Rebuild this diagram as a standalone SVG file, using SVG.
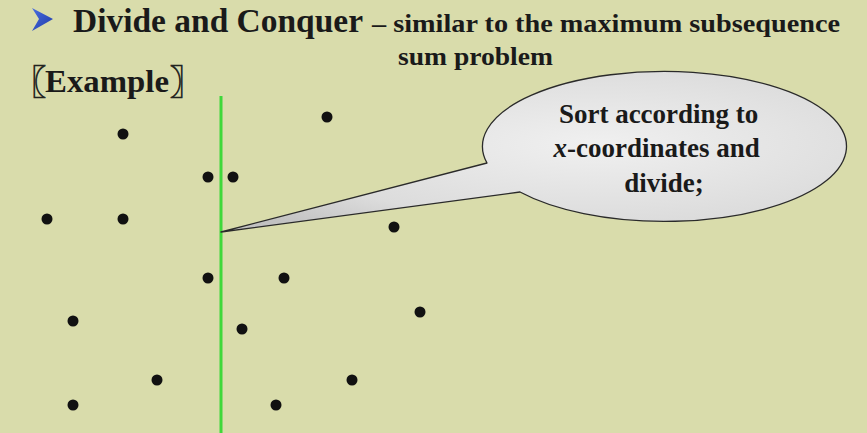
<svg xmlns="http://www.w3.org/2000/svg" width="867" height="433" viewBox="0 0 867 433">
  <style>
    .hd { font-family: "Liberation Serif", "DejaVu Serif", "Times New Roman", serif; font-weight: bold; fill: #1a1a1a; }
    .br { font-family: "Noto Sans CJK SC", "Noto Sans CJK JP", sans-serif; font-weight: 900; fill: #1a1a1a; stroke: #1a1a1a; stroke-width: 0.6; }
    .pt { fill: #111; }
  </style>
  <defs>
    <radialGradient id="bubbleFill" cx="0.6" cy="0.45" r="0.7">
      <stop offset="0" stop-color="#f0f0f0"/>
      <stop offset="0.7" stop-color="#dcdcdc"/>
      <stop offset="1" stop-color="#c2c2c2"/>
    </radialGradient>
    <linearGradient id="bulletFill" x1="0" y1="0" x2="1" y2="1">
      <stop offset="0" stop-color="#4a6ee0"/>
      <stop offset="1" stop-color="#1f3aa8"/>
    </linearGradient>
  </defs>

  <!-- slide background -->
  <rect x="0" y="0" width="867" height="433" fill="#d9dcab"/>

  <!-- heading -->
  <g id="title">
    <polygon points="32,8 53,19 32,31 39,19" fill="url(#bulletFill)"/>
    <text class="hd" x="73" y="32" font-size="33" textLength="290" lengthAdjust="spacingAndGlyphs">Divide and Conquer</text>
    <text class="hd" x="372" y="32" font-size="26" textLength="468" lengthAdjust="spacingAndGlyphs">– similar to the maximum subsequence</text>
    <text class="hd" x="398" y="65" font-size="26" textLength="155" lengthAdjust="spacingAndGlyphs">sum problem</text>
  </g>
  <g id="example-label">
    <text class="br" x="46" y="94" font-size="33" text-anchor="end">〖</text>
    <text class="hd" x="45" y="92" font-size="32" textLength="124" lengthAdjust="spacingAndGlyphs">Example</text>
    <text class="br" x="170" y="94" font-size="33">〗</text>
  </g>

  <!-- dividing line -->
  <g id="divider">
    <line x1="221" y1="96" x2="221" y2="433" stroke="#3fd83a" stroke-width="3"/>
  </g>

  <!-- point set -->
  <g id="points" class="pt">
    <circle cx="123" cy="134" r="5.5"/>
    <circle cx="327" cy="117" r="5.5"/>
    <circle cx="208" cy="177" r="5.5"/>
    <circle cx="233" cy="177" r="5.5"/>
    <circle cx="47" cy="219" r="5.5"/>
    <circle cx="123" cy="219" r="5.5"/>
    <circle cx="394" cy="227" r="5.5"/>
    <circle cx="208" cy="278" r="5.5"/>
    <circle cx="284" cy="278" r="5.5"/>
    <circle cx="73" cy="321" r="5.5"/>
    <circle cx="420" cy="312" r="5.5"/>
    <circle cx="242" cy="329" r="5.5"/>
    <circle cx="157" cy="380" r="5.5"/>
    <circle cx="352" cy="380" r="5.5"/>
    <circle cx="73" cy="405" r="5.5"/>
    <circle cx="276" cy="405" r="5.5"/>
  </g>

  <!-- callout bubble pointing at the divider -->
  <g id="callout">
    <path d="M 487 163 L 221 232 L 520 192 A 182 75 0 1 0 487 163 Z" fill="url(#bubbleFill)" stroke="#2a2a2a" stroke-width="1.3" stroke-linejoin="round"/>
    <text class="hd" font-size="27" text-anchor="middle">
      <tspan x="662" y="123">Sort according to</tspan>
      <tspan x="660" y="157"><tspan font-style="italic">x</tspan>-coordinates and</tspan>
      <tspan x="664" y="192">divide;</tspan>
    </text>
  </g>
</svg>
